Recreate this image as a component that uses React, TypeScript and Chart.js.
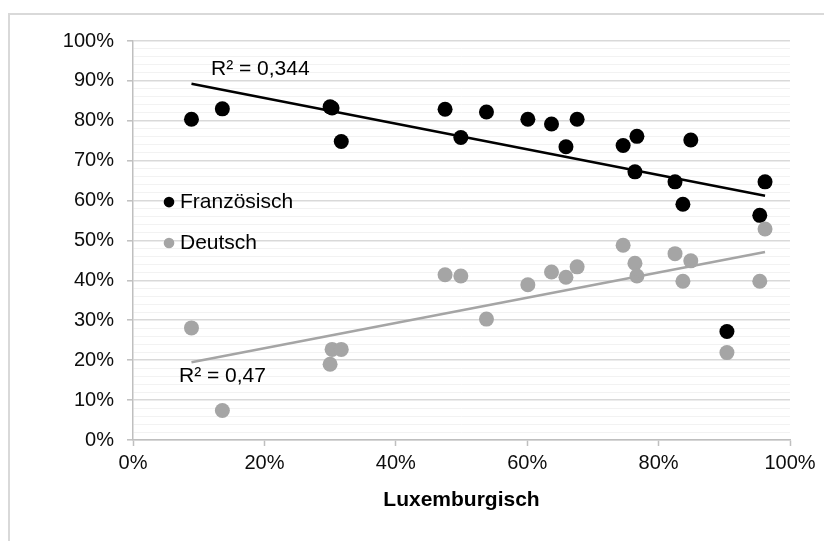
import { useEffect, useRef } from 'react';
import { Chart, registerables } from 'chart.js';

Chart.register(...registerables);

// Luxemburgisch share (x, %)
const luxemburgisch = [8.9, 13.6, 30.0, 30.3, 31.7, 47.5, 49.9, 53.8, 60.1, 63.7, 65.9, 67.6, 74.6, 76.4, 76.7, 82.5, 83.7, 84.9, 90.4, 95.4, 96.2];
// Französisch share (y, %)
const franzoesisch = [80.4, 83.0, 83.5, 83.2, 74.8, 82.9, 75.8, 82.2, 80.4, 79.2, 73.5, 80.4, 73.8, 67.2, 76.1, 64.7, 59.1, 75.2, 27.2, 56.3, 64.7];
// Deutsch share (y, %)
const deutsch = [28.1, 7.4, 19.0, 22.7, 22.7, 41.4, 41.1, 30.3, 38.9, 42.1, 40.8, 43.4, 48.8, 44.3, 41.1, 46.7, 39.8, 44.9, 21.9, 39.8, 52.9];

// Linear trend lines (end points)
const trendX = [8.9, 96.2];
const frTrendY = [89.3, 61.2];
const deTrendY = [19.5, 47.1];

const frLabel = 'R² = 0,344';
const deLabel = 'R² = 0,47';
const seriesNames = ['Französisch', 'Deutsch'];
const xTitle = 'Luxemburgisch';

const BLACK = '#000000';
const GRAY = '#a5a5a5';
const FONT = '"Liberation Sans", Arial, sans-serif';

const overlayPlugin = {
  id: 'overlay',
  beforeDraw(chart: any) {
    const ctx = chart.ctx;
    ctx.save();
    ctx.strokeStyle = '#d9d9d9';
    ctx.lineWidth = 2;
    ctx.strokeRect(9, 14, 900, 900);
    ctx.restore();
  },
  afterDraw(chart: any) {
    const ctx = chart.ctx;
    const xs = chart.scales.x;
    const ys = chart.scales.y;
    ctx.save();
    ctx.font = `21px ${FONT}`;
    ctx.fillStyle = '#000';
    ctx.textBaseline = 'middle';
    ctx.textAlign = 'left';
    // R² labels
    ctx.fillText(frLabel, 211, 69);
    ctx.fillText(deLabel, 179, 376);
    // legend
    const legendY = [ys.getPixelForValue(60) + 1.5, ys.getPixelForValue(50) + 2.5];
    const colors = [BLACK, GRAY];
    seriesNames.forEach((name, i) => {
      ctx.beginPath();
      ctx.fillStyle = colors[i];
      ctx.arc(169, legendY[i], 5.3, 0, Math.PI * 2);
      ctx.fill();
      ctx.fillStyle = '#000';
      ctx.fillText(name, 180, legendY[i]);
    });
    // axis title
    ctx.font = `bold 21px ${FONT}`;
    ctx.textAlign = 'center';
    ctx.fillText(xTitle, (xs.left + xs.right) / 2, 500);
    ctx.restore();
  },
};

export default function App() {
  const ref = useRef<HTMLCanvasElement | null>(null);
  useEffect(() => {
    document.body.style.margin = '0';
    const canvas = ref.current;
    if (!canvas) return;
    const pts = (ys: number[]) => luxemburgisch.map((x, i) => ({ x, y: ys[i] }));
    const line = (ys: number[]) => trendX.map((x, i) => ({ x, y: ys[i] }));
    const chart = new Chart(canvas, {
      type: 'scatter',
      data: {
        datasets: [
          {
            type: 'line',
            label: 'Trend Französisch',
            data: line(frTrendY),
            borderColor: BLACK,
            borderWidth: 2.5,
            pointRadius: 0,
            showLine: true,
          } as any,
          {
            type: 'line',
            label: 'Trend Deutsch',
            data: line(deTrendY),
            borderColor: GRAY,
            borderWidth: 2.5,
            pointRadius: 0,
            showLine: true,
          } as any,
          {
            label: seriesNames[1],
            data: pts(deutsch),
            backgroundColor: GRAY,
            borderColor: GRAY,
            borderWidth: 0,
            pointRadius: 7.5,
          },
          {
            label: seriesNames[0],
            data: pts(franzoesisch),
            backgroundColor: BLACK,
            borderColor: BLACK,
            borderWidth: 0,
            pointRadius: 7.5,
          },
        ],
      },
      options: {
        responsive: false,
        animation: false,
        layout: { padding: { left: 0, right: 34, top: 41, bottom: 0 } },
        plugins: { legend: { display: false }, tooltip: { enabled: false } },
        scales: {
          x: {
            type: 'linear',
            min: 0,
            max: 100,
            afterFit: (s: any) => { s.height = 101; },
            ticks: {
              stepSize: 20,
              padding: 5,
              color: '#0d0d0d',
              font: { family: FONT, size: 20 },
              callback: (v: any) => `${v}%`,
            },
            grid: { drawOnChartArea: false, drawTicks: true, tickLength: 6, tickColor: '#bfbfbf', tickWidth: 1.5 },
            border: { display: true, color: '#bfbfbf', width: 1.5 },
          },
          y: {
            type: 'linear',
            min: 0,
            max: 100,
            afterFit: (s: any) => { s.width = 133; },
            ticks: {
              stepSize: 2,
              autoSkip: false,
              padding: 13,
              color: '#0d0d0d',
              font: { family: FONT, size: 20 },
              callback: (v: any) => (Math.round(v) % 10 === 0 ? `${Math.round(v)}%` : ''),
            },
            grid: {
              color: (c: any) => (Math.round(c.tick.value) % 10 === 0 ? '#d9d9d9' : '#f2f2f2'),
              lineWidth: (c: any) => (Math.round(c.tick.value) % 10 === 0 ? 1.6 : 1),
              tickColor: (c: any) => (Math.round(c.tick.value) % 10 === 0 ? '#bfbfbf' : 'rgba(0,0,0,0)'),
              tickLength: 6,
              tickWidth: 1.5,
            },
            border: { display: true, color: '#bfbfbf', width: 1.5 },
          },
        },
      },
      plugins: [overlayPlugin],
    });
    return () => chart.destroy();
  }, []);
  return <canvas ref={ref} width={824} height={541} style={{ display: 'block', width: 824, height: 541 }} />;
}
